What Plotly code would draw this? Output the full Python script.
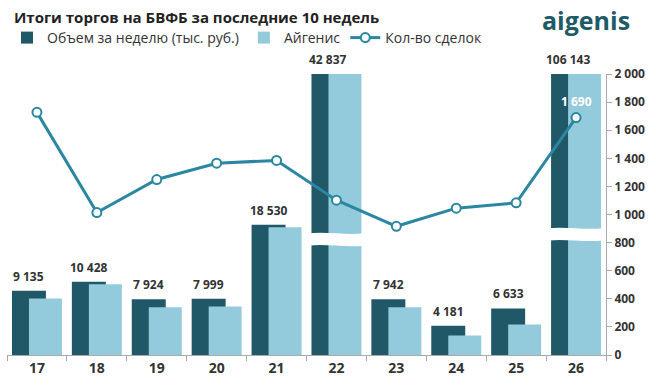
import plotly.graph_objects as go

weeks = ["17", "18", "19", "20", "21", "22", "23", "24", "25", "26"]
volume = [9135, 10428, 7924, 7999, 18530, 42837, 7942, 4181, 6633, 106143]
aigenis = [8060, 10060, 6780, 6920, 18180, 42000, 6780, 2780, 4340, 105000]
deals = [1727, 1014, 1249, 1365, 1385, 1102, 916, 1045, 1083, 1690]

DARK = "#215868"
LIGHT = "#93CBDC"
LINE = "#2B87A0"
TXT = "#333333"
FONT = "Open Sans"

VOL_MAX = 40000
CNT_MAX = 2000

x = list(range(len(weeks)))

def fmt(v):
    return f"{v:,}".replace(",", " ")

fig = go.Figure()
fig.add_trace(go.Bar(
    x=x, y=volume, name="Объем за неделю (тыс. руб.)",
    marker=dict(color=DARK, line=dict(width=0)),
    offset=-0.417, width=0.567, yaxis="y",
))
fig.add_trace(go.Bar(
    x=x, y=aigenis, name="Айгенис",
    marker=dict(color=LIGHT, line=dict(width=0)),
    offset=-0.133, width=0.55, yaxis="y",
))
fig.add_trace(go.Scatter(
    x=x, y=deals, name="Кол-во сделок", yaxis="y2",
    mode="lines+markers",
    line=dict(color=LINE, width=3),
    marker=dict(size=9, color="white", line=dict(color=LINE, width=2)),
    cliponaxis=False,
))

plot_l, plot_r, plot_t, plot_b = 7, 606, 74, 355
pw, ph = plot_r - plot_l, plot_b - plot_t

def px2paper(px, py):
    return (px - plot_l) / pw, (plot_b - py) / ph

annotations = []
for i, v in enumerate(volume):
    annotations.append(dict(
        x=i - 0.133, y=min(v, VOL_MAX), xref="x", yref="y",
        text=fmt(v), showarrow=False, yanchor="bottom", yshift=4,
        font=dict(family=FONT, size=12, color=TXT, weight="bold"),
    ))
annotations.append(dict(
    x=len(x) - 1, y=deals[-1], xref="x", yref="y2",
    text=fmt(deals[-1]), showarrow=False, yanchor="bottom", yshift=6,
    font=dict(family=FONT, size=12, color="white", weight="bold"),
))
tx, ty = px2paper(12, 17)
annotations.append(dict(
    x=tx, y=ty, xref="paper", yref="paper",
    xanchor="left", yanchor="middle", showarrow=False,
    text="Итоги торгов на БВФБ за последние 10 недель",
    font=dict(family=FONT, size=15, color="#222222", weight="bold"),
))
lx, ly = px2paper(632, 20)
annotations.append(dict(
    x=lx, y=ly, xref="paper", yref="paper",
    xanchor="right", yanchor="middle", showarrow=False,
    text="aigenis",
    font=dict(family=FONT, size=25, color="#1F5A68", weight="bold"),
))

# axis break bands (white wavy strips)
breaks = {5: (866, 778), 9: (902, 815)}
shapes = []
d = 14
for i, (yt, yb) in breaks.items():
    x0, x1 = i - 0.47, i + 0.45
    xa, xb = x0 + (x1 - x0) / 3, x0 + 2 * (x1 - x0) / 3
    path = (f"M {x0},{yt} C {xa},{yt + d} {xb},{yt - d} {x1},{yt} "
            f"L {x1},{yb} C {xb},{yb - d} {xa},{yb + d} {x0},{yb} Z")
    shapes.append(dict(type="path", path=path, xref="x", yref="y2",
                       fillcolor="white", line=dict(width=0), layer="above"))

legx, legy = px2paper(7, 38)
fig.update_layout(
    width=656, height=385,
    margin=dict(l=plot_l, r=656 - plot_r, t=plot_t, b=385 - plot_b, pad=0,
                autoexpand=False),
    paper_bgcolor="white", plot_bgcolor="white",
    barmode="overlay",
    separators=", ",
    font=dict(family=FONT, color=TXT),
    showlegend=True,
    legend=dict(
        orientation="h", x=legx, y=legy, yanchor="middle",
        xanchor="left", font=dict(family=FONT, size=14, color=TXT),
        itemwidth=30, traceorder="normal", bgcolor="rgba(0,0,0,0)",
    ),
    xaxis=dict(
        range=[-0.5, len(x) - 0.5], tickvals=x, ticktext=weeks,
        ticks="", showgrid=False, zeroline=False,
        showline=True, linecolor="#AAAAAA", linewidth=1,
        tickfont=dict(family=FONT, size=14, color=TXT, weight="bold"),
        minor=dict(tickvals=[i - 0.5 for i in range(len(x) + 1)],
                   ticks="outside", ticklen=5, tickcolor="#AAAAAA", showgrid=False),
        fixedrange=True,
    ),
    yaxis=dict(range=[0, VOL_MAX], visible=False, showgrid=False, fixedrange=True),
    yaxis2=dict(
        range=[0, CNT_MAX], overlaying="y", side="right",
        tickvals=list(range(0, CNT_MAX + 1, 200)), tickformat=",d",
        showgrid=False, zeroline=False,
        showline=True, linecolor="#AAAAAA", linewidth=1,
        ticks="outside", ticklen=5, tickcolor="#AAAAAA",
        tickfont=dict(family=FONT, size=12, color=TXT, weight="bold"),
        fixedrange=True,
    ),
    annotations=annotations,
    shapes=shapes,
)

fig.write_html("out.html")
